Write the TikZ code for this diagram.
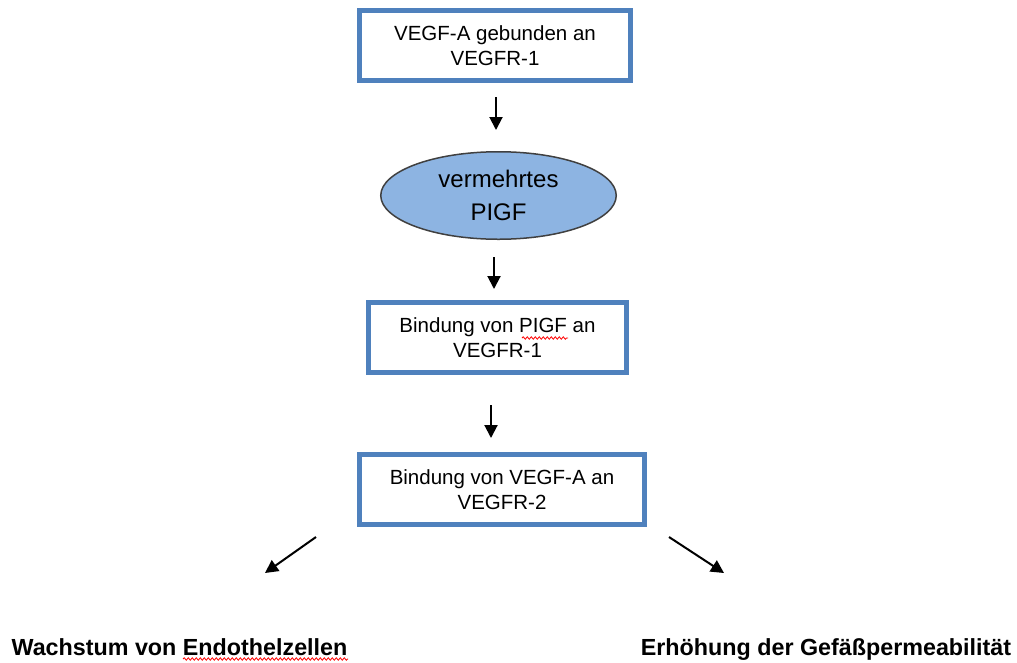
\documentclass[tikz,border=0pt]{standalone}
\usepackage{fontspec}
\setmainfont{Liberation Sans}
\usepackage{tikz}
\usetikzlibrary{arrows.meta,shapes.geometric,decorations.pathmorphing}
\definecolor{boxblue}{HTML}{4F81BD}
\definecolor{ellblue}{HTML}{8DB4E2}
\tikzstyle{bluebox}=[rectangle,draw=boxblue,line width=5pt,fill=white,align=center,inner sep=0pt,font=\fontsize{20.5}{25}\selectfont]
\tikzstyle{blueell}=[ellipse,draw=black!75,line width=1.5pt,fill=ellblue,align=center,inner sep=0pt,font=\fontsize{24}{33}\selectfont]
\tikzstyle{effect}=[anchor=base,inner sep=0pt,font=\bfseries\fontsize{23.3}{28}\selectfont]
\tikzstyle{spellwave}=[draw=red,line width=0.8pt,decorate,decoration={snake,amplitude=1.2pt,segment length=4pt}]

\begin{document}
\begin{tikzpicture}[x=1pt,y=-1pt]
\useasboundingbox (0,0) rectangle (1017,662);
\node[bluebox,minimum width=271,minimum height=70] (A) at (495,45.5) {VEGF-A gebunden an\\VEGFR-1};
\node[blueell,minimum width=235.5,minimum height=87.5] (B) at (498.5,195.5) {vermehrtes\\PIGF};
\node[bluebox,minimum width=258,minimum height=70] (C) at (497.5,337.5) {Bindung von PIGF an\\VEGFR-1};
\node[bluebox,minimum width=285,minimum height=70] (D) at (502,489.5) {Bindung von VEGF-A an\\VEGFR-2};
\node[effect] (E) at (179.5,655) {Wachstum von Endothelzellen};
\node[effect] (F) at (826,655) {Erhöhung der Gefäßpermeabilität};
% red spelling marks
\coordinate (w1) at (522,338); \coordinate (w2) at (568,338);
\coordinate (w3) at (183,659); \coordinate (w4) at (348,659);
\path[spellwave] (w1) -- (w2);
\path[spellwave] (w3) -- (w4);
% free standing arrows
\coordinate (a1) at (496,97);  \coordinate (a2) at (496,130);
\coordinate (b1) at (494,257); \coordinate (b2) at (494,289);
\coordinate (c1) at (491,405); \coordinate (c2) at (491,438);
\coordinate (d1) at (316,537); \coordinate (d2) at (265,573);
\coordinate (e1) at (669,537); \coordinate (e2) at (724,573);
\path[->,>={Triangle[length=13pt,width=13pt]},line width=2pt]
(a1) edge (a2)
(b1) edge (b2)
(c1) edge (c2)
(d1) edge (d2)
(e1) edge (e2);
\end{tikzpicture}
\end{document}
